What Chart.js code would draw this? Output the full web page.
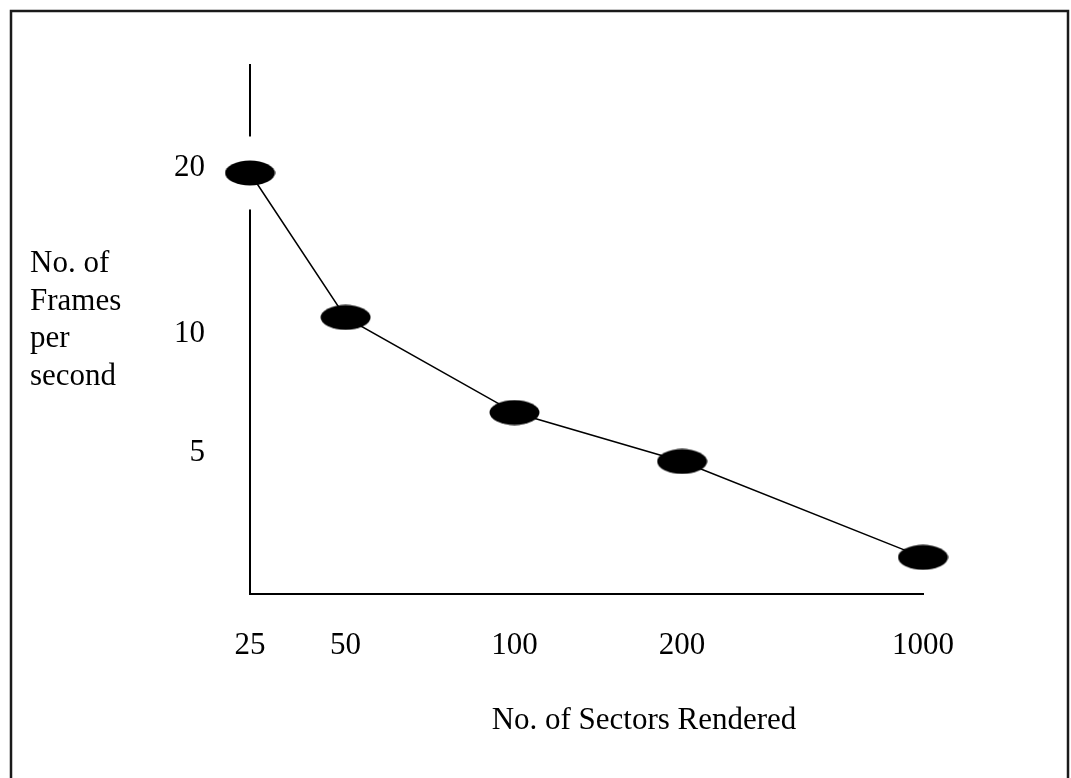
<!DOCTYPE html>
<html>
<head>
<meta charset="utf-8">
<script src="https://cdn.jsdelivr.net/npm/chart.js@4/dist/chart.umd.min.js"></script>
<style>
  html, body { margin: 0; padding: 0; background: #fff; }
  canvas { display: block; }
</style>
</head>
<body>
<canvas id="c" width="1071" height="778"></canvas>
<script>
// ---- data ----
const sectors = [25, 50, 100, 200, 1000];
const framesPerSecond = [19.7, 11.0, 6.7, 4.7, 1.3];
const xTickValues = [25, 50, 100, 200, 1000];
const yTickValues = [5, 10, 20];
const xTitle = 'No. of Sectors Rendered';
const yTitleLines = ['No. of', 'Frames', 'per', 'second'];

// ---- hand-drawn (non-uniform) axis spacing: value -> fraction of axis length ----
const axisKnots = {
  x: [[25, 0], [50, 0.142], [100, 0.393], [200, 0.642], [1000, 1]],
  y: [[0, 0], [5, 0.2665], [10, 0.4915], [20, 0.8053], [26, 1]]
};

function interp(k, v, a, b) {
  let i = 0;
  while (i < k.length - 2 && v > k[i + 1][a]) i++;
  const p = k[i], q = k[i + 1];
  return p[b] + (v - p[a]) / (q[a] - p[a]) * (q[b] - p[b]);
}

class PiecewiseScale extends Chart.LinearScale {
  static id = 'piecewise';
  getPixelForValue(value) {
    if (value === null || value === undefined || isNaN(value)) return NaN;
    return this.getPixelForDecimal(interp(axisKnots[this.id], value, 0, 1));
  }
  getValueForPixel(pixel) {
    return interp(axisKnots[this.id], this.getDecimalForPixel(pixel), 1, 0);
  }
}
Chart.register(PiecewiseScale);

function ellipseMarker(w, h) {
  const c = document.createElement('canvas');
  c.width = w; c.height = h;
  const g = c.getContext('2d');
  g.fillStyle = '#000';
  g.beginPath();
  g.ellipse(w / 2, h / 2, w / 2 - 0.5, h / 2 - 0.5, 0, 0, Math.PI * 2);
  g.fill();
  return c;
}
const marker = ellipseMarker(51, 26);

const FONT = { family: '"Liberation Serif", "Times New Roman", serif', size: 31 };

const decor = {
  id: 'decor',
  beforeDraw(chart) {
    const ctx = chart.ctx;
    ctx.save();
    ctx.fillStyle = '#fff';
    ctx.fillRect(0, 0, chart.width, chart.height);
    ctx.restore();
  },
  beforeDatasetsDraw(chart) {
    // break in the vertical axis around the first marker
    const p = chart.getDatasetMeta(0).data[0];
    const ax = chart.chartArea.left;
    const ctx = chart.ctx;
    ctx.save();
    ctx.fillStyle = '#fff';
    ctx.fillRect(ax - 4, p.y - 36.5, 8, 73);
    ctx.restore();
  },
  afterDraw(chart) {
    const ctx = chart.ctx;
    ctx.save();
    // outer frame
    ctx.strokeStyle = '#1a1a1a';
    ctx.lineWidth = 2.5;
    ctx.strokeRect(11, 11, 1057, 800);
    // titles
    ctx.fillStyle = '#000';
    ctx.font = FONT.size + 'px ' + FONT.family;
    ctx.textBaseline = 'alphabetic';
    ctx.textAlign = 'left';
    yTitleLines.forEach((t, i) => ctx.fillText(t, 30, 272 + i * 37.7));
    ctx.textAlign = 'center';
    ctx.fillText(xTitle, 644, 729);
    ctx.restore();
  }
};

new Chart(document.getElementById('c'), {
  type: 'line',
  data: {
    datasets: [{
      data: sectors.map((s, i) => ({ x: s, y: framesPerSecond[i] })),
      borderColor: '#000',
      borderWidth: 1.5,
      tension: 0,
      pointStyle: marker,
      pointRadius: 13,
      pointHoverRadius: 13,
      clip: false
    }]
  },
  options: {
    responsive: false,
    animation: false,
    events: [],
    layout: { padding: { top: 65, right: 148, left: 0, bottom: 0 } },
    plugins: { legend: { display: false }, tooltip: { enabled: false } },
    scales: {
      x: {
        type: 'piecewise',
        min: 25, max: 1000,
        grid: { display: false, drawTicks: false },
        border: { display: true, color: '#000', width: 2 },
        ticks: {
          font: FONT, color: '#000', padding: 33,
          autoSkip: false, maxRotation: 0, minRotation: 0,
          callback: v => String(v)
        },
        afterBuildTicks: s => { s.ticks = xTickValues.map(v => ({ value: v })); },
        afterFit: s => { s.height = 184; }
      },
      y: {
        type: 'piecewise',
        min: 0, max: 26,
        grid: { display: false, drawTicks: false },
        border: { display: true, color: '#000', width: 2 },
        ticks: {
          font: FONT, color: '#000', padding: 45,
          autoSkip: false,
          callback: v => String(v)
        },
        afterBuildTicks: s => { s.ticks = yTickValues.map(v => ({ value: v })); },
        afterFit: s => { s.width = 250; }
      }
    }
  },
  plugins: [decor]
});
</script>
</body>
</html>
